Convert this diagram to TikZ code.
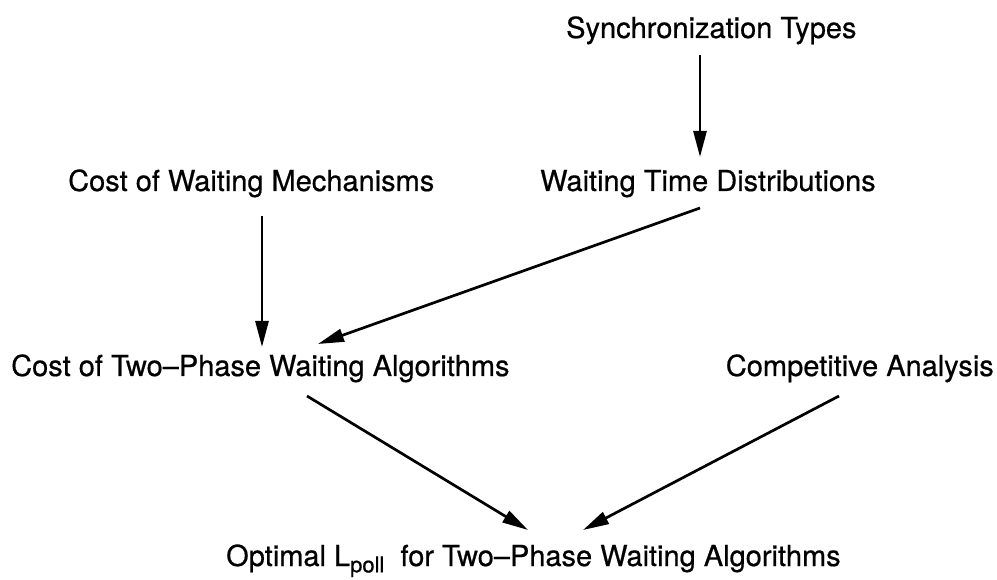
\documentclass[tikz,border=0pt]{standalone}
\usepackage{fontspec}
\setmainfont{TeX Gyre Heros}[FakeBold=0.6]
\usetikzlibrary{arrows.meta}

\newcommand{\subtext}[1]{\raisebox{-0.22em}{\fontsize{22}{24}\selectfont #1}}

\tikzset{
  topic/.style={inner sep=0pt, font=\fontsize{29}{34}\selectfont},
  link/.style={-{Triangle[length=26pt,width=13pt]}, line width=2.7pt}
}

\begin{document}
\begin{tikzpicture}[x=1pt,y=1pt]
  \useasboundingbox (0,0) rectangle (997,-580);
  % topics
  \node[topic, anchor=base west] (sync) at (566,-38) {Synchronization Types};
  \node[topic, anchor=base west] (wtd) at (540,-191) {Waiting Time Distributions};
  \node[topic, anchor=base west] (cwm) at (68,-191) {Cost of Waiting Mechanisms};
  \node[topic, anchor=base west] (ctp) at (11,-376) {Cost of Two--Phase Waiting Algorithms};
  \node[topic, anchor=base east] (comp) at (994,-376) {Competitive Analysis};
  \node[topic, anchor=base west] (opt) at (226,-566) {Optimal L\subtext{poll}\ \ for Two--Phase Waiting Algorithms};
  % dependencies
  \draw[link] ([shift={(134,-17)}]sync.base west) -- ([shift={(160,34)}]wtd.base west);
  \draw[link] ([shift={(194,-25)}]cwm.base west) -- ([shift={(251,29)}]ctp.base west);
  \draw[link] ([shift={(160,-17)}]wtd.base west) -- ([shift={(307,32)}]ctp.base west);
  \draw[link] ([shift={(296,-20)}]ctp.base west) -- ([shift={(302,36)}]opt.base west);
  \draw[link] ([shift={(-155,-20)}]comp.base east) -- ([shift={(357,36)}]opt.base west);
\end{tikzpicture}
\end{document}
